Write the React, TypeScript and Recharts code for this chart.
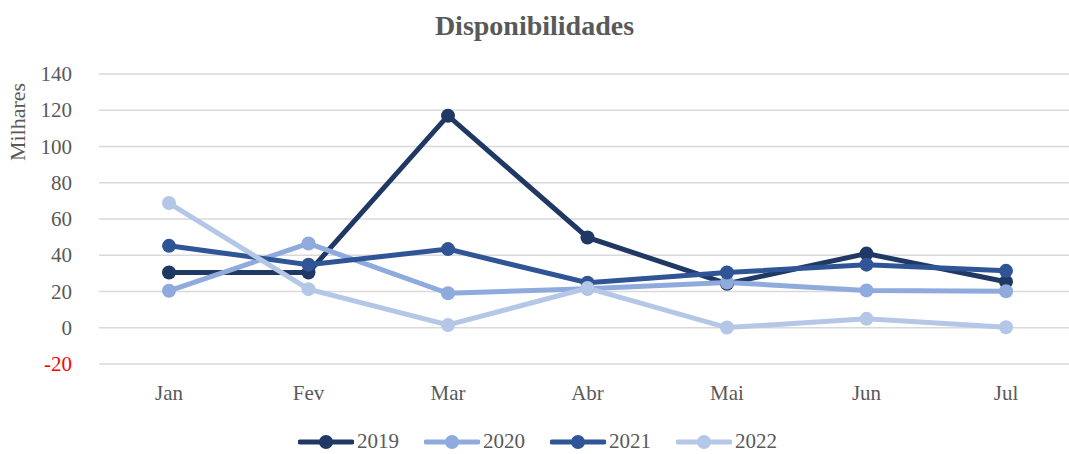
import React from 'react'
import { LineChart, Line, XAxis, YAxis, CartesianGrid, Legend } from 'recharts'

const months = ['Jan', 'Fev', 'Mar', 'Abr', 'Mai', 'Jun', 'Jul']
const s2019 = [30.5, 30.5, 117, 49.8, 24.3, 40.9, 25.4]
const s2020 = [20.4, 46.5, 19.0, 21.5, 25.0, 20.6, 20.1]
const s2021 = [45.2, 34.8, 43.4, 24.8, 30.5, 34.8, 31.4]
const s2022 = [68.8, 21.3, 1.5, 21.9, 0.1, 4.9, 0.3]
const yTicks = [-20, 0, 20, 40, 60, 80, 100, 120, 140]

const data = months.map((m, i) => ({
  name: m,
  '2019': s2019[i],
  '2020': s2020[i],
  '2021': s2021[i],
  '2022': s2022[i],
}))

const series = [
  { key: '2019', color: '#203864' },
  { key: '2020', color: '#8FAADC' },
  { key: '2021', color: '#2F5597' },
  { key: '2022', color: '#B4C7E7' },
]

const FONT = '"Liberation Serif", "DejaVu Serif", serif'
const GREY = '#595959'

const YTick = (props: any) => {
  const { x, y, payload } = props
  return (
    <text x={x} y={y} dy={7} textAnchor="end" fontSize={21} fontFamily={FONT}
      fill={payload.value < 0 ? '#FF0000' : GREY}>
      {payload.value}
    </text>
  )
}

const YLabel = (props: any) => {
  const { viewBox } = props
  const cx = 17
  const cy = viewBox.y + 48
  return (
    <text x={cx} y={cy} transform={`rotate(-90, ${cx}, ${cy})`} textAnchor="middle"
      dominantBaseline="central" fontSize={22} fontFamily={FONT} fill={GREY}>
      Milhares
    </text>
  )
}

const LegendContent = () => (
  <div style={{ display: 'flex', justifyContent: 'center', paddingLeft: 24, paddingTop: 13, fontFamily: FONT, fontSize: 21, color: GREY }}>
    {series.map(s => (
      <div key={s.key} style={{ display: 'flex', alignItems: 'center', marginRight: 25 }}>
        <svg width={56} height={16} style={{ marginRight: 3 }}>
          <line x1={2} y1={8} x2={54} y2={8} stroke={s.color} strokeWidth={5} strokeLinecap="round" />
          <circle cx={28} cy={8} r={7} fill={s.color} />
        </svg>
        <span>{s.key}</span>
      </div>
    ))}
  </div>
)

export default function App() {
  return (
    <div style={{ position: 'absolute', left: 0, top: 0, width: 1069, height: 454, overflow: 'hidden', background: '#fff' }}>
      <div style={{ position: 'absolute', top: 10, left: 0, width: 1069, textAlign: 'center', fontFamily: FONT, fontWeight: 'bold', fontSize: 28, color: GREY }}>
        Disponibilidades
      </div>
      <LineChart width={1076} height={454} data={data} margin={{ top: 74, right: 0, left: 0, bottom: 0 }}>
        <CartesianGrid horizontal vertical={false} stroke="#D9D9D9" strokeWidth={1.5} />
        <XAxis dataKey="name" axisLine={false} tickLine={false} tickMargin={15} height={52}
          padding={{ left: 70, right: 70 }}
          tick={{ fontSize: 21, fontFamily: FONT, fill: GREY }} />
        <YAxis width={99} domain={[-20, 140]} ticks={yTicks} axisLine={false} tickLine={false}
          tickMargin={21} tick={<YTick />} label={<YLabel />} />
        <Legend verticalAlign="bottom" height={38} content={<LegendContent />} />
        {series.map(s => (
          <Line key={s.key} type="linear" dataKey={s.key} stroke={s.color} strokeWidth={5}
            dot={{ r: 7, fill: s.color, stroke: s.color, strokeWidth: 0 }} activeDot={false}
            isAnimationActive={false} />
        ))}
      </LineChart>
    </div>
  )
}
